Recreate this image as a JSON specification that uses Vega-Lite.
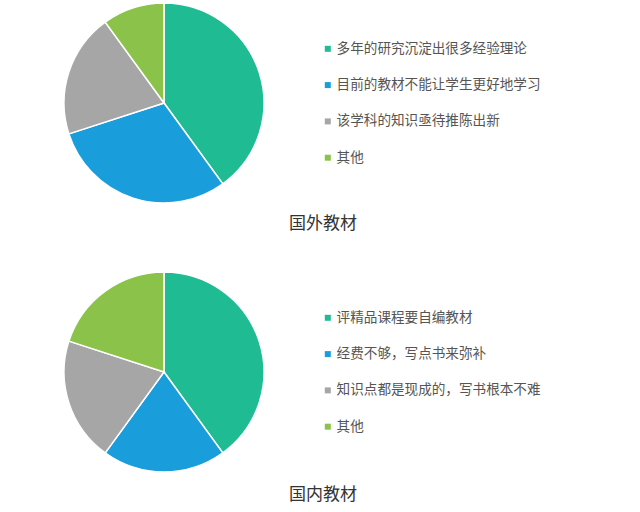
{
  "$schema": "https://vega.github.io/schema/vega-lite/v6.json",
  "padding": {"left": 61, "top": 0, "right": 0, "bottom": 12},
  "background": "white",
  "config": {
    "view": {"stroke": null},
    "font": "Noto Sans CJK SC",
    "legend": {"padding": 0}
  },
  "datasets": {
    "abroad": [
      {"label": "多年的研究沉淀出很多经验理论", "value": 40, "rank": 1},
      {"label": "目前的教材不能让学生更好地学习", "value": 30, "rank": 2},
      {"label": "该学科的知识亟待推陈出新", "value": 20, "rank": 3},
      {"label": "其他", "value": 10, "rank": 4}
    ],
    "domestic": [
      {"label": "评精品课程要自编教材", "value": 40, "rank": 1},
      {"label": "经费不够，写点书来弥补", "value": 20, "rank": 2},
      {"label": "知识点都是现成的，写书根本不难", "value": 20, "rank": 3},
      {"label": "其他", "value": 20, "rank": 4}
    ]
  },
  "vconcat": [
    {
      "data": {"name": "abroad"},
      "width": 200,
      "height": 200,
      "title": {"text": "国外教材", "orient": "bottom", "anchor": "middle", "dx": 159, "offset": 10, "fontSize": 17, "fontWeight": "normal", "color": "#333"},
      "mark": {"type": "arc", "stroke": "white", "strokeWidth": 1.5},
      "encoding": {
        "theta": {"field": "value", "type": "quantitative", "stack": true},
        "order": {"field": "rank", "type": "quantitative"},
        "color": {
          "field": "label",
          "type": "nominal",
          "scale": {
            "domain": ["多年的研究沉淀出很多经验理论", "目前的教材不能让学生更好地学习", "该学科的知识亟待推陈出新", "其他"],
            "range": ["#1fbc94", "#1a9edb", "#a6a6a6", "#8bc34a"]
          },
          "legend": {"title": null, "orient": "none", "legendX": 257, "legendY": 39, "symbolType": "square", "symbolSize": 36, "symbolStrokeWidth": 0, "labelFontSize": 13.6, "labelColor": "#555", "labelOffset": 2, "rowPadding": 21.3, "labelLimit": 300}
        }
      }
    },
    {
      "data": {"name": "domestic"},
      "width": 200,
      "height": 200,
      "title": {"text": "国内教材", "orient": "bottom", "anchor": "middle", "dx": 159, "offset": 12, "fontSize": 17, "fontWeight": "normal", "color": "#333"},
      "mark": {"type": "arc", "stroke": "white", "strokeWidth": 1.5},
      "encoding": {
        "theta": {"field": "value", "type": "quantitative", "stack": true},
        "order": {"field": "rank", "type": "quantitative"},
        "color": {
          "field": "label",
          "type": "nominal",
          "scale": {
            "domain": ["评精品课程要自编教材", "经费不够，写点书来弥补", "知识点都是现成的，写书根本不难", "其他"],
            "range": ["#1fbc94", "#1a9edb", "#a6a6a6", "#8bc34a"]
          },
          "legend": {"title": null, "orient": "none", "legendX": 257, "legendY": 39, "symbolType": "square", "symbolSize": 36, "symbolStrokeWidth": 0, "labelFontSize": 13.6, "labelColor": "#555", "labelOffset": 2, "rowPadding": 21.3, "labelLimit": 300}
        }
      }
    }
  ],
  "spacing": 37,
  "resolve": {"scale": {"color": "independent"}}
}
